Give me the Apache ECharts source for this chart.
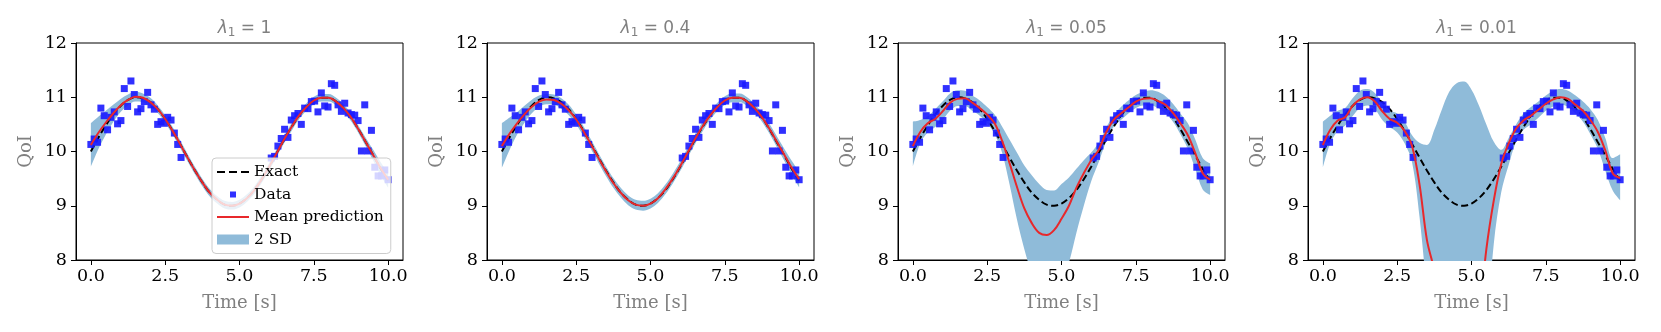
<!DOCTYPE html>
<html>
<head>
<meta charset="utf-8">
<script src="https://cdn.jsdelivr.net/npm/echarts@6/dist/echarts.min.js"></script>
<style>
html, body { margin: 0; padding: 0; background: #fff; }
#chart { width: 1661px; height: 332px; }
</style>
</head>
<body>
<div id="chart"></div>
<script>
// time grid used for the curves
var tGrid = [0,0.25,0.5,0.75,1,1.25,1.5,1.75,2,2.25,2.5,2.75,3,3.25,3.5,3.75,4,4.25,4.5,4.75,5,
             5.25,5.5,5.75,6,6.25,6.5,6.75,7,7.25,7.5,7.75,8,8.25,8.5,8.75,9,9.25,9.5,9.75,10];

var exact = [10.00,10.25,10.48,10.68,10.84,10.95,11.00,10.98,10.91,10.78,10.60,10.38,10.14,9.89,9.65,9.43,9.24,9.11,9.02,9.00,9.04,
             9.14,9.29,9.49,9.72,9.97,10.22,10.45,10.66,10.82,10.94,10.99,10.99,10.92,10.80,10.63,10.41,10.17,9.93,9.68,9.46];

// noisy observations (same in every panel)
var dataT = [0,0.112,0.225,0.337,0.449,0.562,0.674,0.787,0.899,1.011,1.124,1.236,1.348,1.461,1.573,1.685,1.798,1.910,2.022,2.135,
             2.247,2.360,2.472,2.584,2.697,2.809,2.921,3.034,
             6.067,6.180,6.292,6.404,6.517,6.629,6.742,6.854,6.966,7.079,7.191,7.303,7.416,7.528,7.640,7.753,7.865,7.978,8.090,8.202,
             8.315,8.427,8.539,8.652,8.764,8.876,8.989,9.101,9.213,9.326,9.438,9.551,9.663,9.775,9.888,10.0];
var dataY = [10.13,10.23,10.17,10.80,10.66,10.40,10.63,10.73,10.51,10.57,11.16,10.83,11.30,11.05,10.73,10.79,10.92,11.09,10.86,10.78,
             10.50,10.55,10.52,10.63,10.58,10.34,10.13,9.89,
             9.88,9.91,10.10,10.24,10.41,10.26,10.58,10.66,10.70,10.50,10.80,10.79,10.92,10.93,10.73,11.08,10.84,10.82,11.25,11.22,
             10.86,10.74,10.89,10.71,10.68,10.67,10.57,10.01,10.86,10.01,10.39,9.71,9.55,9.55,9.66,9.48];

// lambda_1 = 1
var mean1 = [10.12,10.34,10.53,10.70,10.85,10.95,11.01,10.99,10.91,10.78,10.60,10.38,10.14,9.89,9.65,9.43,9.24,9.11,9.02,9.00,9.04,
             9.14,9.29,9.49,9.72,9.97,10.22,10.45,10.66,10.82,10.94,10.99,10.99,10.92,10.80,10.63,10.41,10.17,9.93,9.69,9.48];
var lo1 = [9.72,10.04,10.31,10.54,10.73,10.85,10.92,10.91,10.83,10.71,10.53,10.31,10.07,9.82,9.58,9.36,9.17,9.04,8.95,8.93,8.97,
           9.07,9.22,9.42,9.65,9.90,10.15,10.38,10.59,10.75,10.87,10.92,10.92,10.85,10.73,10.56,10.34,10.09,9.83,9.56,9.33];
var hi1 = [10.52,10.64,10.75,10.86,10.97,11.05,11.10,11.07,10.99,10.85,10.67,10.45,10.21,9.96,9.72,9.50,9.31,9.18,9.09,9.07,9.11,
           9.21,9.36,9.56,9.79,10.04,10.29,10.52,10.73,10.89,11.01,11.06,11.06,10.99,10.87,10.70,10.48,10.25,10.03,9.80,9.61];

// lambda_1 = 0.4
var mean2 = [10.10,10.32,10.51,10.68,10.82,10.92,10.96,10.95,10.88,10.76,10.59,10.37,10.13,9.88,9.64,9.42,9.24,9.10,9.02,9.00,9.04,
             9.14,9.30,9.50,9.73,9.98,10.23,10.46,10.66,10.82,10.94,10.99,10.99,10.92,10.80,10.63,10.42,10.18,9.94,9.70,9.49];
var lo2 = [9.70,10.02,10.30,10.52,10.70,10.82,10.87,10.86,10.79,10.67,10.50,10.28,10.04,9.79,9.55,9.33,9.15,9.01,8.93,8.91,8.95,
           9.05,9.21,9.41,9.64,9.89,10.14,10.37,10.58,10.74,10.86,10.91,10.91,10.84,10.72,10.55,10.33,10.08,9.83,9.57,9.34];
var hi2 = [10.52,10.62,10.72,10.84,10.95,11.03,11.06,11.05,10.98,10.86,10.68,10.46,10.22,9.97,9.73,9.51,9.33,9.19,9.11,9.09,9.13,
           9.23,9.39,9.59,9.82,10.07,10.32,10.55,10.75,10.90,11.02,11.07,11.07,11.00,10.88,10.71,10.51,10.28,10.05,9.83,9.63];

// lambda_1 = 0.05
var mean3 = [10.10,10.36,10.52,10.60,10.74,10.90,10.97,10.98,10.90,10.80,10.68,10.52,10.20,9.79,9.35,8.95,8.68,8.50,8.46,8.55,8.76,
             9.00,9.33,9.60,9.84,10.03,10.35,10.58,10.70,10.81,10.92,10.97,10.98,10.93,10.86,10.71,10.52,10.30,9.97,9.60,9.48];
var lo3 = [9.72,10.15,10.35,10.45,10.58,10.75,10.84,10.84,10.75,10.66,10.52,10.32,9.98,9.40,8.75,8.20,7.75,7.45,7.30,7.35,7.55,
           7.95,8.50,9.00,9.45,9.80,10.18,10.45,10.58,10.70,10.80,10.85,10.85,10.80,10.70,10.55,10.32,10.05,9.68,9.30,9.20];
var hi3 = [10.55,10.58,10.65,10.78,10.92,11.07,11.13,11.12,11.03,10.94,10.82,10.68,10.46,10.22,9.98,9.74,9.56,9.40,9.29,9.28,9.40,
           9.52,9.68,9.84,9.98,10.16,10.44,10.66,10.82,10.94,11.04,11.10,11.13,11.10,11.02,10.88,10.70,10.52,10.22,9.88,9.78];

// lambda_1 = 0.01
var mean4 = [10.12,10.40,10.57,10.63,10.84,10.96,11.00,10.92,10.74,10.60,10.53,10.38,10.10,9.40,8.37,7.80,6.90,6.20,5.85,5.85,6.10,
             6.90,8.20,9.10,9.77,10.15,10.42,10.57,10.66,10.77,10.88,10.96,11.00,10.97,10.86,10.75,10.58,10.36,10.02,9.60,9.51];
var lo4 = [9.70,10.15,10.38,10.48,10.65,10.80,10.85,10.78,10.58,10.45,10.35,10.15,9.80,8.80,7.40,6.00,5.00,4.40,4.10,4.10,4.40,
           5.20,6.60,8.30,9.25,9.75,10.18,10.40,10.50,10.62,10.75,10.83,10.86,10.82,10.70,10.55,10.32,10.05,9.65,9.28,9.10];
var hi4 = [10.55,10.66,10.75,10.80,10.98,11.12,11.15,11.08,10.90,10.75,10.70,10.55,10.30,10.16,10.12,10.40,10.77,11.10,11.26,11.29,11.14,
           10.85,10.50,10.18,10.03,10.25,10.50,10.70,10.82,10.92,11.03,11.12,11.15,11.12,11.03,10.92,10.78,10.58,10.25,9.88,9.95];

var lambdas = ['1', '0.4', '0.05', '0.01'];
var means = [mean1, mean2, mean3, mean4];
var lows = [lo1, lo2, lo3, lo4];
var highs = [hi1, hi2, hi3, hi4];
var xTicks = [0, 2.5, 5, 7.5, 10];

var gridLeft = [76, 487, 898, 1308];
var gridW = 327;
var gray = '#808080';
var serif = 'DejaVu Serif';
var bandColor = '#8fbbd9';
var redColor = '#e8282b';
var blueColor = '#1a1aff';

function pairs(xs, ys) {
	var out = [];
	for (var i = 0; i < xs.length; i++) out.push([xs[i], ys[i]]);
	return out;
}
// value first, time second -> the stack is done on the value column
function flipped(xs, ys) {
	var out = [];
	for (var i = 0; i < xs.length; i++) out.push([ys[i], xs[i]]);
	return out;
}

var grids = [], xAxes = [], yAxes = [], titles = [], series = [];

for (var p = 0; p < 4; p++) {
	grids.push({left: gridLeft[p], top: 43, width: gridW, height: 217,
		show: true, borderColor: '#000', borderWidth: 1, backgroundColor: 'transparent'});
	xAxes.push({
		type: 'value', gridIndex: p, min: -0.5, max: 10.5,
		name: 'Time [s]', nameLocation: 'middle', nameGap: 34,
		nameTextStyle: {fontFamily: serif, fontSize: 18, color: gray},
		axisLine: {show: true, onZero: false, lineStyle: {color: '#000', width: 1}},
		axisTick: {show: true, length: 5, lineStyle: {color: '#000'}, customValues: xTicks},
		axisLabel: {margin: 7, fontFamily: serif, fontSize: 17.5, color: '#000',
			customValues: xTicks, formatter: function (v) { return v.toFixed(1); }},
		splitLine: {show: false}
	});
	yAxes.push({
		type: 'value', gridIndex: p, min: 8, max: 12, interval: 1,
		name: 'QoI', nameLocation: 'middle', nameGap: 41,
		nameTextStyle: {fontFamily: serif, fontSize: 18, color: gray},
		axisLine: {show: true, onZero: false, lineStyle: {color: '#000', width: 1}},
		axisTick: {show: true, length: 5, lineStyle: {color: '#000'}},
		axisLabel: {margin: 9, fontFamily: serif, fontSize: 17.5, color: '#000'},
		splitLine: {show: false}
	});
	titles.push({
		text: '{l|λ}{s|1}{e| = ' + lambdas[p] + '}',
		left: gridLeft[p] + gridW / 2, top: 13, textAlign: 'center',
		textStyle: {
			fontWeight: 'normal',
			rich: {
				l: {fontFamily: 'DejaVu Sans', fontStyle: 'italic', fontWeight: 'normal', fontSize: 17, color: gray, lineHeight: 21},
				s: {fontFamily: 'DejaVu Sans', fontWeight: 'normal', fontSize: 12, color: gray, lineHeight: 12, verticalAlign: 'bottom'},
				e: {fontFamily: 'DejaVu Sans', fontWeight: 'normal', fontSize: 17, color: gray, lineHeight: 21}
			}
		}
	});

	// 2 SD band: lower edge + stacked width
	var width = [];
	for (var i = 0; i < tGrid.length; i++) width.push(+(highs[p][i] - lows[p][i]).toFixed(3));
	series.push({
		type: 'line', name: 'band-low-' + p, xAxisIndex: p, yAxisIndex: p,
		stack: 'sd' + p, dimensions: ['val', 't'], encode: {x: 't', y: 'val'},
		data: flipped(tGrid, lows[p]), smooth: 0.35, symbol: 'none',
		lineStyle: {opacity: 0}, silent: true, z: 1
	});
	series.push({
		type: 'line', name: '2 SD', xAxisIndex: p, yAxisIndex: p,
		stack: 'sd' + p, dimensions: ['val', 't'], encode: {x: 't', y: 'val'},
		data: flipped(tGrid, width), smooth: 0.35, symbol: 'none',
		lineStyle: {opacity: 0}, areaStyle: {color: bandColor, opacity: 1},
		itemStyle: {color: bandColor}, silent: true, z: 1
	});
	series.push({
		type: 'line', name: 'Exact', xAxisIndex: p, yAxisIndex: p,
		data: pairs(tGrid, exact), smooth: 0.35, symbol: 'none',
		lineStyle: {color: '#000', width: 2, type: [7, 3.5]}, itemStyle: {color: '#000'},
		silent: true, z: 2
	});
	series.push({
		type: 'scatter', name: 'Data', xAxisIndex: p, yAxisIndex: p,
		data: pairs(dataT, dataY), symbol: 'rect', symbolSize: 7,
		itemStyle: {color: blueColor, opacity: 0.9}, silent: true, z: 3
	});
	series.push({
		type: 'line', name: 'Mean prediction', xAxisIndex: p, yAxisIndex: p,
		data: pairs(tGrid, means[p]), smooth: 0.35, symbol: 'none',
		lineStyle: {color: redColor, width: 2}, itemStyle: {color: redColor},
		silent: true, z: 4
	});
}

var box = 'M0 0h0.01v0.01H0zM32 12h-0.01v-0.01H32z';
var option = {
	animation: false,
	backgroundColor: '#fff',
	title: titles,
	grid: grids,
	xAxis: xAxes,
	yAxis: yAxes,
	legend: {
		left: 212, top: 158, orient: 'vertical', selectedMode: false,
		itemWidth: 32, itemHeight: 12, itemGap: 6.5,
		backgroundColor: 'rgba(255,255,255,0.8)', borderColor: '#cccccc', borderWidth: 1, borderRadius: 4,
		padding: [6, 7, 6, 5], z: 10,
		textStyle: {fontFamily: serif, fontSize: 15.5, color: '#000', lineHeight: 16},
		data: [
			{name: 'Exact', icon: 'path://' + box + 'M0 5h8v2H0zM12 5h8v2H12zM24 5h8v2H24z', itemStyle: {color: '#000', borderWidth: 0}},
			{name: 'Data', icon: 'path://' + box + 'M13 3h6v6h-6z', itemStyle: {color: blueColor, borderWidth: 0}},
			{name: 'Mean prediction', icon: 'path://' + box + 'M0 5h32v2H0z', itemStyle: {color: redColor, borderWidth: 0}},
			{name: '2 SD', icon: 'path://' + box + 'M0 1h32v10H0z', itemStyle: {color: bandColor, borderWidth: 0, opacity: 1}}
		]
	},
	series: series
};

var chart = echarts.init(document.getElementById('chart'));
chart.setOption(option);
</script>
</body>
</html>
